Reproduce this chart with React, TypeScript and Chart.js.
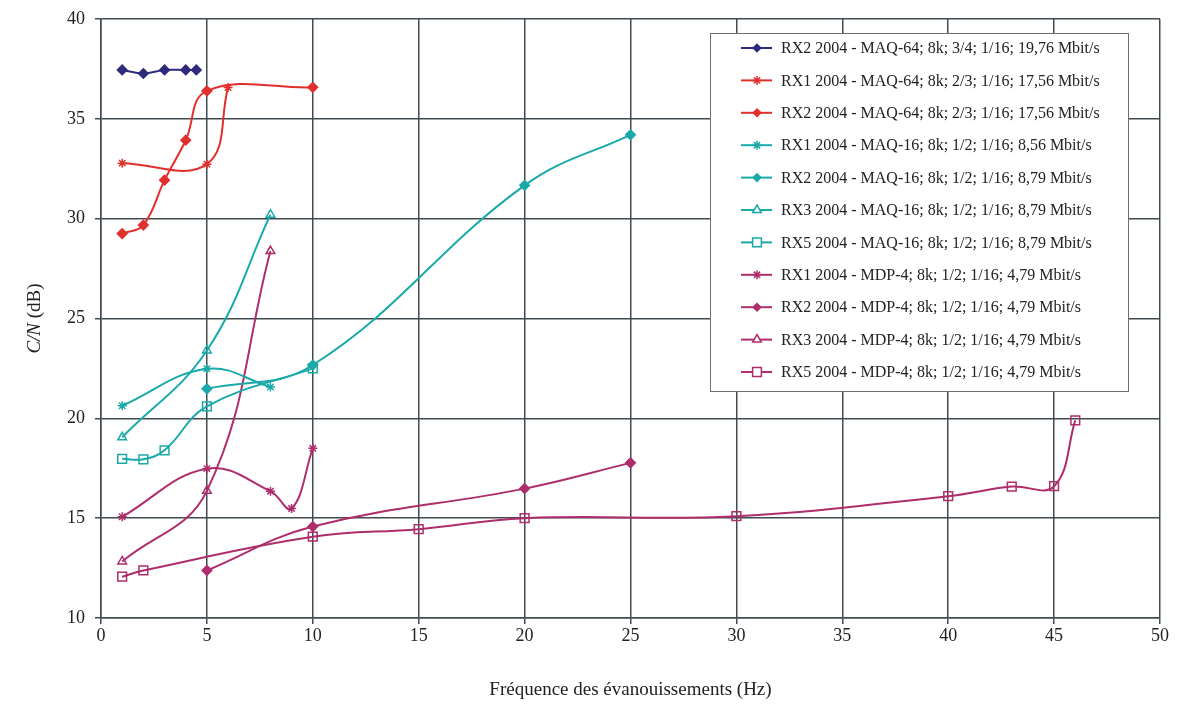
import React, { useEffect, useRef } from "react";
import { Chart, registerables } from "chart.js";
Chart.register(...registerables);

const NAVY = "#2e2a7c";
const RED = "#e0302e";
const TEAL = "#1aa9a9";
const MAGENTA = "#ae2d6c";

// Fréquence (Hz) / C/N (dB)
const rx2Maq64_34_x = [1, 2, 3, 4, 4.5];
const rx2Maq64_34_y = [37.45, 37.27, 37.45, 37.45, 37.45];
const rx1Maq64_23_x = [1, 5, 6];
const rx1Maq64_23_y = [32.78, 32.73, 36.57];
const rx2Maq64_23_x = [1, 2, 3, 4, 5, 10];
const rx2Maq64_23_y = [29.25, 29.68, 31.93, 33.93, 36.4, 36.58];
const rx1Maq16_x = [1, 5, 8];
const rx1Maq16_y = [20.63, 22.48, 21.57];
const rx2Maq16_x = [5, 10, 20, 25];
const rx2Maq16_y = [21.48, 22.67, 31.67, 34.2];
const rx3Maq16_x = [1, 5, 8];
const rx3Maq16_y = [19.05, 23.4, 30.2];
const rx5Maq16_x = [1, 2, 3, 5, 10];
const rx5Maq16_y = [17.97, 17.95, 18.4, 20.6, 22.5];
const rx1Mdp4_x = [1, 5, 8, 9, 10];
const rx1Mdp4_y = [15.07, 17.48, 16.35, 15.48, 18.5];
const rx2Mdp4_x = [5, 10, 20, 25];
const rx2Mdp4_y = [12.38, 14.58, 16.48, 17.77];
const rx3Mdp4_x = [1, 5, 8];
const rx3Mdp4_y = [12.83, 16.37, 28.38];
const rx5Mdp4_x = [1, 2, 10, 15, 20, 30, 40, 43, 45, 46];
const rx5Mdp4_y = [12.07, 12.38, 14.07, 14.45, 15.0, 15.1, 16.1, 16.58, 16.6, 19.9];

const seriesLabels = [
  "RX2 2004 - MAQ-64; 8k; 3/4; 1/16; 19,76 Mbit/s",
  "RX1 2004 - MAQ-64; 8k; 2/3; 1/16; 17,56 Mbit/s",
  "RX2 2004 - MAQ-64; 8k; 2/3; 1/16; 17,56 Mbit/s",
  "RX1 2004 - MAQ-16; 8k; 1/2; 1/16; 8,56 Mbit/s",
  "RX2 2004 - MAQ-16; 8k; 1/2; 1/16; 8,79 Mbit/s",
  "RX3 2004 - MAQ-16; 8k; 1/2; 1/16; 8,79 Mbit/s",
  "RX5 2004 - MAQ-16; 8k; 1/2; 1/16; 8,79 Mbit/s",
  "RX1 2004 - MDP-4; 8k; 1/2; 1/16; 4,79 Mbit/s",
  "RX2 2004 - MDP-4; 8k; 1/2; 1/16; 4,79 Mbit/s",
  "RX3 2004 - MDP-4; 8k; 1/2; 1/16; 4,79 Mbit/s",
  "RX5 2004 - MDP-4; 8k; 1/2; 1/16; 4,79 Mbit/s",
];

const SERIF = "'Liberation Serif', 'Times New Roman', serif";

type Spec = { xs: number[]; ys: number[]; color: string; style: string };
const specs: Spec[] = [
  { xs: rx2Maq64_34_x, ys: rx2Maq64_34_y, color: NAVY, style: "rectRot" },
  { xs: rx1Maq64_23_x, ys: rx1Maq64_23_y, color: RED, style: "star" },
  { xs: rx2Maq64_23_x, ys: rx2Maq64_23_y, color: RED, style: "rectRot" },
  { xs: rx1Maq16_x, ys: rx1Maq16_y, color: TEAL, style: "star" },
  { xs: rx2Maq16_x, ys: rx2Maq16_y, color: TEAL, style: "rectRot" },
  { xs: rx3Maq16_x, ys: rx3Maq16_y, color: TEAL, style: "triangle" },
  { xs: rx5Maq16_x, ys: rx5Maq16_y, color: TEAL, style: "rect" },
  { xs: rx1Mdp4_x, ys: rx1Mdp4_y, color: MAGENTA, style: "star" },
  { xs: rx2Mdp4_x, ys: rx2Mdp4_y, color: MAGENTA, style: "rectRot" },
  { xs: rx3Mdp4_x, ys: rx3Mdp4_y, color: MAGENTA, style: "triangle" },
  { xs: rx5Mdp4_x, ys: rx5Mdp4_y, color: MAGENTA, style: "rect" },
];

function pointRadius(style: string) {
  if (style === "rect") return 6.2;
  if (style === "triangle") return 5;
  if (style === "star") return 4.5;
  return 4.8;
}

function drawMarker(ctx: CanvasRenderingContext2D, style: string, x: number, y: number, color: string) {
  const r = pointRadius(style);
  ctx.save();
  ctx.strokeStyle = color;
  ctx.fillStyle = color;
  ctx.lineWidth = 1.5;
  ctx.beginPath();
  if (style === "rectRot") {
    ctx.moveTo(x, y - r);
    ctx.lineTo(x + r, y);
    ctx.lineTo(x, y + r);
    ctx.lineTo(x - r, y);
    ctx.closePath();
    ctx.fill();
  } else if (style === "star") {
    for (let i = 0; i < 4; i++) {
      const a = (i * Math.PI) / 4;
      ctx.moveTo(x + Math.sin(a) * r, y - Math.cos(a) * r);
      ctx.lineTo(x - Math.sin(a) * r, y + Math.cos(a) * r);
    }
    ctx.stroke();
  } else if (style === "triangle") {
    const h = r * 1.5;
    ctx.moveTo(x, y - r);
    ctx.lineTo(x + h / Math.sqrt(3), y + r * 0.5);
    ctx.lineTo(x - h / Math.sqrt(3), y + r * 0.5);
    ctx.closePath();
    ctx.fillStyle = "#fff";
    ctx.fill();
    ctx.stroke();
  } else if (style === "rect") {
    const s = r * Math.SQRT1_2;
    ctx.rect(x - s, y - s, 2 * s, 2 * s);
    ctx.fillStyle = "#fff";
    ctx.fill();
    ctx.stroke();
  }
  ctx.restore();
}

const legendPlugin = {
  id: "customLegend",
  afterDraw(chart: any) {
    const ctx: CanvasRenderingContext2D = chart.ctx;
    const left = 710, top = 33, right = 1128, bottom = 391;
    ctx.save();
    ctx.fillStyle = "#fff";
    ctx.fillRect(left, top, right - left, bottom - top);
    ctx.strokeStyle = "#6f6f6f";
    ctx.lineWidth = 1;
    ctx.strokeRect(left + 0.5, top + 0.5, right - left, bottom - top);
    ctx.font = `16px ${SERIF}`;
    ctx.textBaseline = "middle";
    ctx.textAlign = "left";
    seriesLabels.forEach((label, i) => {
      const y = 48 + i * 32.4;
      const sp = specs[i];
      ctx.strokeStyle = sp.color;
      ctx.lineWidth = 2;
      ctx.beginPath();
      ctx.moveTo(741, y);
      ctx.lineTo(772, y);
      ctx.stroke();
      drawMarker(ctx, sp.style, 757, y, sp.color);
      ctx.fillStyle = "#222";
      ctx.fillText(label, 781, y + 1);
    });
    ctx.restore();
  },
};

const titlesPlugin = {
  id: "titles",
  afterDraw(chart: any) {
    const ctx: CanvasRenderingContext2D = chart.ctx;
    const area = chart.chartArea;
    ctx.save();
    ctx.fillStyle = "#222";
    ctx.font = `19px ${SERIF}`;
    ctx.textAlign = "center";
    ctx.textBaseline = "middle";
    ctx.fillText("Fréquence des évanouissements (Hz)", (area.left + area.right) / 2, 690);
    // y title with italic C/N
    ctx.translate(35, (area.top + area.bottom) / 2);
    ctx.rotate(-Math.PI / 2);
    const italic = `italic 19px ${SERIF}`;
    const normal = `19px ${SERIF}`;
    ctx.font = italic;
    const w1 = ctx.measureText("C/N").width;
    ctx.font = normal;
    const w2 = ctx.measureText(" (dB)").width;
    const start = -(w1 + w2) / 2;
    ctx.textAlign = "left";
    ctx.font = italic;
    ctx.fillText("C/N", start, 0);
    ctx.font = normal;
    ctx.fillText(" (dB)", start + w1, 0);
    ctx.restore();
  },
};

export default function App() {
  const ref = useRef<HTMLCanvasElement>(null);
  useEffect(() => {
    const datasets = specs.map((sp, i) => ({
      label: seriesLabels[i],
      data: sp.xs.map((x, j) => ({ x, y: sp.ys[j] })),
      borderColor: sp.color,
      backgroundColor: sp.style === "rect" || sp.style === "triangle" ? "rgba(255,255,255,0)" : sp.color,
      pointBorderColor: sp.color,
      pointStyle: sp.style,
      pointRadius: pointRadius(sp.style),
      pointBorderWidth: 1.5,
      borderWidth: 2,
      tension: 0.4,
      fill: false,
    }));
    const gridColor = "#414b4f";
    const chart = new Chart(ref.current!, {
      type: "line",
      data: { datasets },
      options: {
        animation: false,
        responsive: false,
        layout: { padding: { top: 14, right: 18, left: 0, bottom: 0 } },
        plugins: { legend: { display: false }, tooltip: { enabled: false } },
        scales: {
          x: {
            type: "linear",
            min: 0,
            max: 50,
            ticks: { stepSize: 5, color: "#222", font: { family: SERIF, size: 18, lineHeight: 1 }, padding: 3 },
            grid: { color: gridColor, lineWidth: 1.5, tickLength: 6 },
            border: { color: gridColor, width: 1.5 },
            afterFit: (s: any) => {
              s.height = 86;
            },
          },
          y: {
            min: 10,
            max: 40,
            ticks: { stepSize: 5, color: "#222", font: { family: SERIF, size: 18, lineHeight: 1 }, padding: 10 },
            grid: { color: gridColor, lineWidth: 1.5, tickLength: 6 },
            border: { color: gridColor, width: 1.5 },
            afterFit: (s: any) => {
              s.width = 101;
            },
          },
        },
      } as any,
      plugins: [legendPlugin, titlesPlugin],
    });
    return () => chart.destroy();
  }, []);
  return (
    <div style={{ position: "fixed", left: 0, top: 0, width: 1178, height: 704, background: "#fff" }}>
      <canvas ref={ref} width={1178} height={704} style={{ width: 1178, height: 704, display: "block" }} />
    </div>
  );
}
